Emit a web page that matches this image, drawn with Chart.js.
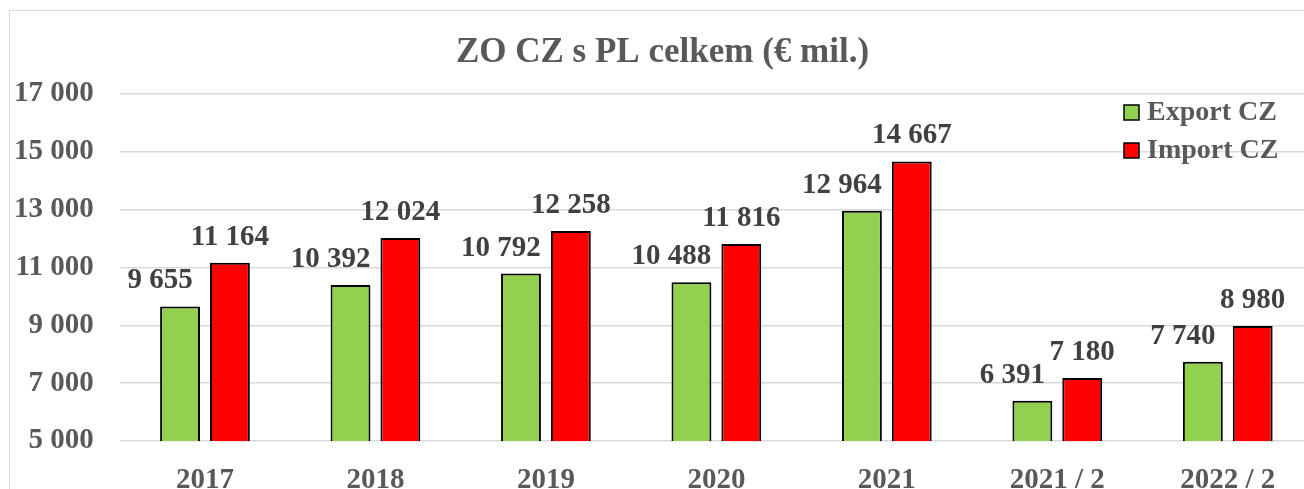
<!DOCTYPE html>
<html>
<head>
<meta charset="utf-8">
<script src="https://cdn.jsdelivr.net/npm/chart.js@4"></script>
<style>
  body { margin: 0; overflow: hidden; background: #fff; }
  canvas { position: absolute; left: 0; top: 0; }
</style>
</head>
<body>
<canvas id="zoChart" width="1327" height="530"></canvas>
<script>
// Chart data
const categories = ['2017', '2018', '2019', '2020', '2021', '2021 / 2', '2022 / 2'];
const exportCZ = [9655, 10392, 10792, 10488, 12964, 6391, 7740];
const importCZ = [11164, 12024, 12258, 11816, 14667, 7180, 8980];
const yTicks = [5000, 7000, 9000, 11000, 13000, 15000, 17000];

const serif = '"Liberation Serif", "Times New Roman", serif';

function fmt(v) {
    return String(v).replace(/\B(?=(\d{3})+(?!\d))/g, ' ');
}

// outer frame of the chart object
const framePlugin = {
    id: 'frame',
    beforeDraw(chart) {
        const ctx = chart.ctx;
        ctx.save();
        ctx.strokeStyle = '#d9d9d9';
        ctx.lineWidth = 1;
        ctx.strokeRect(9.5, 10.5, chart.width - 18, chart.height);
        ctx.restore();
    }
};

// value labels above the bars
const valueLabels = {
    id: 'valueLabels',
    afterDatasetsDraw(chart) {
        const ctx = chart.ctx;
        ctx.save();
        ctx.font = 'bold 29px ' + serif;
        ctx.fillStyle = '#404040';
        ctx.textAlign = 'center';
        ctx.textBaseline = 'alphabetic';
        chart.data.datasets.forEach((ds, i) => {
            const meta = chart.getDatasetMeta(i);
            const dx = i === 0 ? -20 : 0;
            meta.data.forEach((bar, j) => {
                ctx.fillText(fmt(ds.data[j]), bar.x + dx, bar.y - 18);
            });
        });
        ctx.restore();
    }
};

// legend box in the top right corner of the plot
const cornerLegend = {
    id: 'cornerLegend',
    afterDraw(chart) {
        const ctx = chart.ctx;
        const area = chart.chartArea;
        ctx.save();
        ctx.font = 'bold 28px ' + serif;
        ctx.textBaseline = 'middle';
        ctx.textAlign = 'left';
        chart.data.datasets.forEach((ds, i) => {
            const bx = area.right - 189;
            const by = 105 + i * 38;
            ctx.fillStyle = ds.backgroundColor;
            ctx.fillRect(bx, by, 15, 15);
            ctx.strokeStyle = '#000';
            ctx.lineWidth = 1.5;
            ctx.strokeRect(bx, by, 15, 15);
            ctx.fillStyle = '#595959';
            ctx.fillText(ds.label, bx + 23, by + 8);
        });
        ctx.restore();
    }
};

const ctx = document.getElementById('zoChart').getContext('2d');
new Chart(ctx, {
    type: 'bar',
    data: {
        labels: categories,
        datasets: [{
            label: 'Export CZ',
            data: exportCZ,
            backgroundColor: '#92d050',
            borderColor: '#000',
            borderWidth: 2,
            categoryPercentage: 0.585,
            barPercentage: 0.8
        }, {
            label: 'Import CZ',
            data: importCZ,
            backgroundColor: '#ff0000',
            borderColor: '#000',
            borderWidth: 2,
            categoryPercentage: 0.585,
            barPercentage: 0.8
        }]
    },
    options: {
        responsive: false,
        animation: false,
        devicePixelRatio: 1,
        layout: { padding: { top: 10, left: 12, right: 14, bottom: 29 } },
        plugins: {
            legend: { display: false },
            tooltip: { enabled: false },
            title: {
                display: true,
                text: 'ZO CZ s PL celkem (€ mil.)',
                color: '#595959',
                font: { family: serif, size: 35, weight: 'bold', lineHeight: 1.2 },
                padding: { top: 22, bottom: 20 }
            }
        },
        scales: {
            x: {
                grid: { display: false },
                border: { display: false },
                ticks: {
                    color: '#595959',
                    font: { family: serif, size: 29, weight: 'bold' },
                    padding: 14,
                    maxRotation: 0
                },
                afterFit(scale) { scale.height = 60; }
            },
            y: {
                min: 5000,
                max: 17000,
                afterBuildTicks(scale) {
                    scale.ticks = yTicks.map(v => ({ value: v }));
                },
                grid: { color: '#d9d9d9', lineWidth: 1.5, drawTicks: false },
                border: { display: false },
                ticks: {
                    color: '#595959',
                    font: { family: serif, size: 29, weight: 'bold' },
                    padding: 26,
                    callback: v => fmt(v)
                },
                afterFit(scale) { scale.width = 107.75; }
            }
        }
    },
    plugins: [framePlugin, valueLabels, cornerLegend]
});
</script>
</body>
</html>
